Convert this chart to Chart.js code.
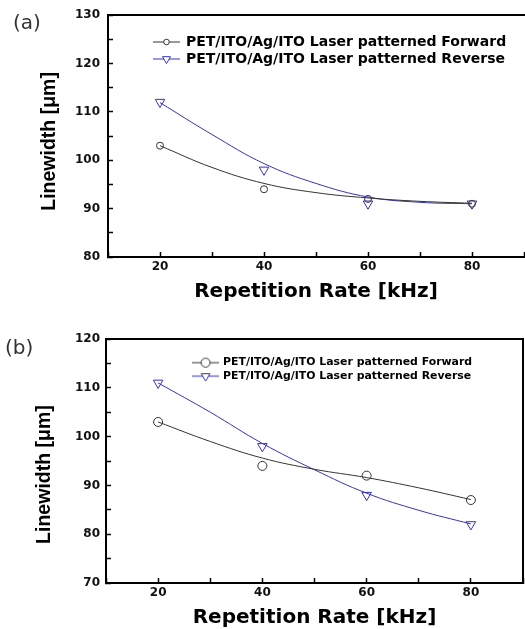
<!DOCTYPE html>
<html>
<head>
<meta charset="utf-8">
<script src="https://cdn.jsdelivr.net/npm/chart.js@4.4.1/dist/chart.umd.min.js"></script>
<style>
body{margin:0;background:#fff;width:525px;height:629px;position:relative;overflow:hidden}
canvas{position:absolute;left:0}
#ca{top:0}
#cb{top:300px}
.lab{position:absolute;font:20px "DejaVu Sans";color:#333;line-height:24px}
</style>
</head>
<body>
<canvas id="ca" width="525" height="310"></canvas>
<canvas id="cb" width="525" height="329"></canvas>
<div class="lab" style="left:13px;top:10px">(a)</div>
<div class="lab" style="left:5px;top:335px">(b)</div>
<script>

// measured points
let xPts=[20,40,60,80];
let fwdA=[103,94,92,91];
let revA=[112,98,91,91];
let fwdB=[103,94,92,87];
let revB=[111,98,88,82];

// fitted curves
let xFit=[20,30,40,50,60,70,80];
let fitFwdA=[103,98.5,95.2,93.3,92.2,91.5,91.1];
let fitRevA=[111.9,105.3,99.3,95.2,92.4,91.3,91.0];
let fitFwdB=[103,99.0,95.6,93.3,91.6,89.5,87.1];
let fitRevB=[111,105.0,98.6,93.2,88.4,84.9,82.1];

let xTickLabels=[20,40,60,80];
let yTickLabelsA=[80,90,100,110,120,130];
let yTickLabelsB=[70,80,90,100,110,120];

let seriesNames=["PET/ITO/Ag/ITO Laser patterned Forward","PET/ITO/Ag/ITO Laser patterned Reverse"];

let black="#333333";
let blue="#3434b8";

function pairs(xs,ys){
return xs.map((x,i)=>({x:x,y:ys[i]}));
}

function legendIcon(shape,r,color){
let c=document.createElement("canvas");
c.width=27;c.height=14;
let g=c.getContext("2d");
g.strokeStyle=color;g.lineWidth=1;
g.beginPath();g.moveTo(0,7);g.lineTo(27,7);g.stroke();
g.fillStyle="#fff";
g.beginPath();
if(shape=="circle"){
g.arc(13.5,7,r,0,Math.PI*2);
}else{
g.moveTo(13.5-r*0.87,7-r*0.5);
g.lineTo(13.5+r*0.87,7-r*0.5);
g.lineTo(13.5,7+r);
g.closePath();
}
g.fill();g.stroke();
return c;
}

// legend sits inside the plot box, placed by hand
const legendSpot={
id:"legendSpot",
afterLayout(chart,args,opts){
let l=chart.legend;
l.left=opts.x;l.top=opts.y;
l.width=400;l.height=120;
l.right=opts.x+400;l.bottom=opts.y+120;
}
};

// no extra room for edge labels, the box is sized by hand
function noPad(sc){
sc.paddingLeft=0;sc.paddingRight=0;sc.paddingTop=0;sc.paddingBottom=0;
}

function makeChart(id,s){

let tickFont={family:"DejaVu Sans",weight:"bold",size:12};

new Chart(document.getElementById(id),{
type:"scatter",
data:{datasets:[
{data:pairs(xFit,s.fitF),showLine:true,borderColor:black,borderWidth:1,pointRadius:0,tension:0.4},
{data:pairs(xFit,s.fitR),showLine:true,borderColor:blue,borderWidth:1,pointRadius:0,tension:0.4},
{label:seriesNames[0],data:pairs(xPts,s.fwd),pointStyle:"circle",pointRadius:s.cr,pointBorderColor:black,pointBackgroundColor:"rgba(0,0,0,0)",pointBorderWidth:1},
{label:seriesNames[1],data:pairs(xPts,s.rev),pointStyle:"triangle",pointRotation:180,pointRadius:5.5,pointBorderColor:blue,pointBackgroundColor:"rgba(0,0,0,0)",pointBorderWidth:1}
]},
options:{
responsive:false,
animation:false,
layout:{autoPadding:false,padding:{left:0,top:s.top,right:s.right,bottom:0}},
plugins:{
tooltip:{enabled:false},
legendSpot:{x:s.lx,y:s.ly},
legend:{
position:"chartArea",
align:"start",
labels:{
usePointStyle:true,
pointStyleWidth:s.bw,
padding:s.lp,
color:"#000",
font:{family:"DejaVu Sans",weight:"bold",size:s.lf},
generateLabels:()=>[
{text:seriesNames[0],pointStyle:legendIcon("circle",s.lcr,black),fontColor:"#000",lineWidth:0,strokeStyle:"rgba(0,0,0,0)",fillStyle:"rgba(0,0,0,0)",datasetIndex:2},
{text:seriesNames[1],pointStyle:legendIcon("tri",s.ltr,blue),fontColor:"#000",lineWidth:0,strokeStyle:"rgba(0,0,0,0)",fillStyle:"rgba(0,0,0,0)",datasetIndex:3}
]
}
}
},
scales:{
x:{
type:"linear",min:10,max:90,
afterFit(sc){sc.height=s.xh;noPad(sc);},
ticks:{stepSize:10,autoSkip:false,maxRotation:0,padding:8,color:"#111",font:tickFont,
callback:v=>xTickLabels.includes(v)?String(v):""},
grid:{drawOnChartArea:false,tickLength:-5,tickColor:"#000",tickWidth:1.5},
border:{color:"#000",width:2},
title:{display:true,text:"Repetition Rate [kHz]",color:"#000",
font:{family:"DejaVu Sans",weight:"bold",size:20,lineHeight:1},padding:{top:0,bottom:s.xtp}}
},
y:{
min:s.ymin,max:s.ymax,
afterFit(sc){sc.width=s.yw;noPad(sc);},
ticks:{stepSize:5,autoSkip:false,padding:s.ytp,color:"#111",font:tickFont,
callback:v=>s.yLabels.includes(v)?String(v):""},
grid:{drawOnChartArea:false,tickLength:-5,tickColor:"#000",tickWidth:1.5},
border:{color:"#000",width:2},
title:{display:true,text:"Linewidth [μm]"+s.pad,color:"#000",
font:{family:"Liberation Sans",weight:"bold",size:19.5},padding:{top:s.ytt,bottom:0}}
},
x2:{type:"linear",position:"top",afterFit(sc){sc.height=0;noPad(sc);},ticks:{display:false},
grid:{drawOnChartArea:false,drawTicks:false},border:{color:"#000",width:2}},
y2:{type:"linear",position:"right",afterFit(sc){sc.width=0;noPad(sc);},ticks:{display:false},
grid:{drawOnChartArea:false,drawTicks:false},border:{display:s.rb,color:"#000",width:2}}
}
},
plugins:[legendSpot]
});

}

makeChart("ca",{
fwd:fwdA,rev:revA,fitF:fitFwdA,fitR:fitRevA,
ymin:80,ymax:130,yLabels:yTickLabelsA,
top:15,right:1,yw:108,xh:53,xtp:8,ytp:13,ytt:38,pad:"  ",rb:false,
cr:3.5,lx:151,ly:32,bw:25,lp:3,lf:14,lcr:2.8,ltr:4.6
});

makeChart("cb",{
fwd:fwdB,rev:revB,fitF:fitFwdB,fitR:fitRevB,
ymin:70,ymax:120,yLabels:yTickLabelsB,
top:39,right:2,yw:106,xh:46,xtp:1,ytp:11,ytt:33,pad:"     ",rb:true,
cr:4.5,lx:191,ly:54.6,bw:24,lp:2.6,lf:10.9,lcr:4.5,ltr:5
});

</script>
</body>
</html>
